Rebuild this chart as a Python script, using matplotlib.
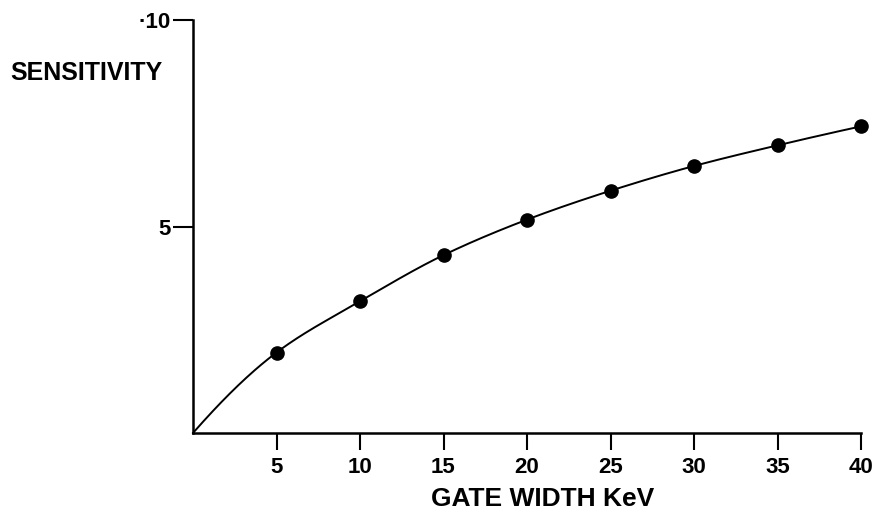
import numpy as np
import matplotlib
matplotlib.use("Agg")
import matplotlib.pyplot as plt

# Data
gate_width = [5, 10, 15, 20, 25, 30, 35, 40]
sensitivity = [1.95, 3.19, 4.31, 5.17, 5.87, 6.47, 6.97, 7.43]
origin = (0.0, 0.0)
x_ticks = [5, 10, 15, 20, 25, 30, 35, 40]
x_tick_labels = ["5", "10", "15", "20", "25", "30", "35", "40"]
y_ticks = [5, 10]
y_tick_labels = ["5", "·10"]


def pchip(xk, yk, xs):
    xk = np.asarray(xk, float)
    yk = np.asarray(yk, float)
    h = np.diff(xk)
    d = np.diff(yk) / h
    n = len(xk)
    m = np.zeros(n)
    for k in range(1, n - 1):
        if d[k - 1] * d[k] > 0:
            w1 = 2 * h[k] + h[k - 1]
            w2 = h[k] + 2 * h[k - 1]
            m[k] = (w1 + w2) / (w1 / d[k - 1] + w2 / d[k])
    m[0] = ((2 * h[0] + h[1]) * d[0] - h[0] * d[1]) / (h[0] + h[1])
    m[-1] = ((2 * h[-1] + h[-2]) * d[-1] - h[-1] * d[-2]) / (h[-1] + h[-2])
    idx = np.clip(np.searchsorted(xk, xs) - 1, 0, n - 2)
    t = (xs - xk[idx]) / h[idx]
    h00 = 2 * t**3 - 3 * t**2 + 1
    h10 = t**3 - 2 * t**2 + t
    h01 = -2 * t**3 + 3 * t**2
    h11 = t**3 - t**2
    return (h00 * yk[idx] + h10 * h[idx] * m[idx] + h01 * yk[idx + 1]
            + h11 * h[idx] * m[idx + 1])


plt.rcParams['font.family'] = ['Liberation Sans', 'DejaVu Sans']

fig = plt.figure(figsize=(8.78, 5.18), dpi=100)
ax = fig.add_axes([193 / 878, 1 - 433 / 518, (861 - 193) / 878, (433 - 20.3) / 518])

cx = [origin[0]] + gate_width
cy = [origin[1]] + sensitivity
xs = np.linspace(cx[0], cx[-1], 400)
ax.plot(xs, pchip(cx, cy, xs), color='black', lw=1.4, clip_on=False)
ax.plot(gate_width, sensitivity, 'o', color='black', ms=9.5, clip_on=False)

ax.set_xlim(0, 40)
ax.set_ylim(0, 10)
for s in ['top', 'right']:
    ax.spines[s].set_visible(False)
for s in ['left', 'bottom']:
    ax.spines[s].set_linewidth(1.8)
ax.spines['left'].set_bounds(0, 10)

ax.set_xticks(x_ticks)
ax.set_xticklabels(x_tick_labels, fontsize=16, fontweight='bold')
ax.set_yticks(y_ticks)
ax.set_yticklabels(y_tick_labels, fontsize=16, fontweight='bold')
ax.tick_params(axis='x', direction='out', length=12, width=1.5, pad=5.5)
ax.tick_params(axis='y', direction='out', length=14.4, width=1.5, pad=1.5)

fig.text(10 / 878, 1 - 72.5 / 518, "SENSITIVITY", ha='left', va='center',
         fontsize=18, fontweight='bold')
fig.text(543 / 878, 1 - 499 / 518, "GATE WIDTH KeV", ha='center', va='center',
         fontsize=19, fontweight='bold')

fig.savefig("out.png", dpi=100)
